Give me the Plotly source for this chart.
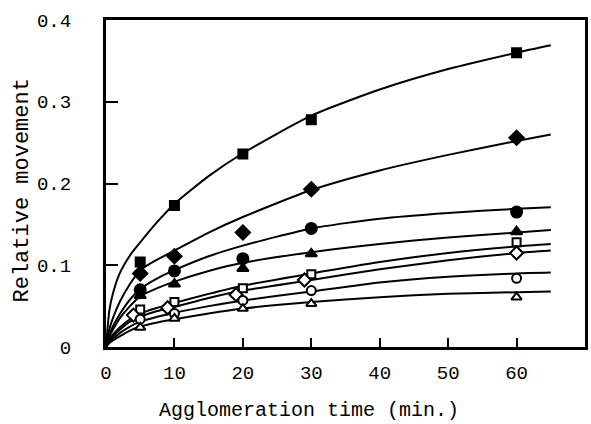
import plotly.graph_objects as go

# ---- data ----
point_t = [5, 10, 20, 30, 60]
od_t = [4, 9, 19, 29, 60]          # open diamonds are drawn slightly offset

filled_square = [0.104, 0.173, 0.236, 0.278, 0.360]
filled_diamond = [0.090, 0.111, 0.140, 0.193, 0.256]
filled_circle = [0.070, 0.093, 0.108, 0.145, 0.165]
filled_triangle = [0.063, 0.077, 0.096, 0.114, 0.141]
open_square = [0.046, 0.055, 0.072, 0.089, 0.128]
open_diamond = [0.039, 0.048, 0.064, 0.082, 0.115]
open_circle = [0.034, 0.041, 0.057, 0.069, 0.084]
open_triangle = [0.024, 0.035, 0.047, 0.053, 0.061]

# fitted curves at these times
curve_t = [0, 0.5, 1, 2, 3.5, 5, 7.5, 10, 15, 20, 30, 40, 50, 60, 65]
curve_fs = [0, 0.045, 0.065, 0.090, 0.112, 0.128, 0.153, 0.175, 0.209, 0.237, 0.283, 0.315, 0.340, 0.360, 0.369]
curve_fd = [0, 0.022, 0.035, 0.055, 0.077, 0.094, 0.107, 0.118, 0.140, 0.159, 0.192, 0.216, 0.235, 0.252, 0.260]
curve_fc = [0, 0.015, 0.025, 0.040, 0.058, 0.071, 0.084, 0.094, 0.111, 0.124, 0.145, 0.157, 0.164, 0.169, 0.171]
curve_ft = [0, 0.013, 0.021, 0.035, 0.050, 0.062, 0.072, 0.080, 0.093, 0.103, 0.116, 0.126, 0.134, 0.140, 0.143]
curve_os = [0, 0.009, 0.015, 0.024, 0.034, 0.041, 0.048, 0.054, 0.065, 0.075, 0.090, 0.104, 0.115, 0.123, 0.126]
curve_od = [0, 0.008, 0.013, 0.021, 0.031, 0.037, 0.044, 0.049, 0.060, 0.069, 0.082, 0.095, 0.106, 0.115, 0.118]
curve_oc = [0, 0.006, 0.010, 0.017, 0.025, 0.031, 0.037, 0.042, 0.050, 0.057, 0.068, 0.079, 0.086, 0.090, 0.091]
curve_ot = [0, 0.005, 0.008, 0.013, 0.020, 0.025, 0.030, 0.034, 0.041, 0.047, 0.055, 0.061, 0.065, 0.067, 0.068]

x_ticks = [0, 10, 20, 30, 40, 50, 60]
y_ticks = [0, 0.1, 0.2, 0.3, 0.4]
y_tick_text = ["0", "0.1", "0.2", "0.3", "0.4"]

FONT = "Liberation Mono"

fig = go.Figure()

for cv in [curve_fs, curve_fd, curve_fc, curve_ft, curve_os, curve_od, curve_oc, curve_ot]:
    fig.add_trace(go.Scatter(x=curve_t, y=cv, mode="lines",
                             line=dict(color="black", width=2, shape="spline", smoothing=0.6),
                             hoverinfo="skip", showlegend=False))

series = [
    (point_t, filled_square, "square", "black", 9),
    (point_t, filled_diamond, "diamond", "black", 11),
    (point_t, filled_circle, "circle", "black", 11),
    (point_t, filled_triangle, "triangle-up", "black", 10),
    (point_t, open_square, "square", "white", 8),
    (od_t, open_diamond, "diamond", "white", 10),
    (point_t, open_circle, "circle", "white", 9),
    (point_t, open_triangle, "triangle-up", "white", 9),
]
for xs, ys, sym, fill, size in series:
    fig.add_trace(go.Scatter(x=xs, y=ys, mode="markers",
                             marker=dict(symbol=sym, color=fill, size=size,
                                         line=dict(color="black", width=2)),
                             showlegend=False))

fig.update_layout(
    width=591, height=424, autosize=False,
    margin=dict(l=106, r=3, t=20, b=77),
    paper_bgcolor="white", plot_bgcolor="white",
    font=dict(family=FONT, size=19, color="black"),
    xaxis=dict(range=[0, 70], tickvals=x_ticks, ticks="inside", ticklen=9, tickwidth=2,
               tickcolor="black", showline=True, linewidth=3, linecolor="black", mirror=True,
               showgrid=False, zeroline=False, ticklabelstandoff=6,
               tickfont=dict(family=FONT, size=19)),
    yaxis=dict(range=[0, 0.4], tickvals=y_ticks, ticktext=y_tick_text, ticks="inside",
               ticklen=12, tickwidth=2, tickcolor="black", showline=True, linewidth=3,
               linecolor="black", mirror=True, showgrid=False, zeroline=False,
               ticklabelstandoff=28, tickfont=dict(family=FONT, size=19)),
    annotations=[
        dict(text="Agglomeration time (min.)", xref="paper", yref="paper",
             x=(310 - 106) / 482, y=-(410 - 347) / 327, xanchor="center", yanchor="middle",
             showarrow=False, font=dict(family=FONT, size=20)),
        dict(text="Relative movement", xref="paper", yref="paper", textangle=-90,
             x=-(106 - 21) / 482, y=(347 - 191) / 327, xanchor="center", yanchor="middle",
             showarrow=False, font=dict(family=FONT, size=22)),
    ],
)

fig.write_html("out.html")
